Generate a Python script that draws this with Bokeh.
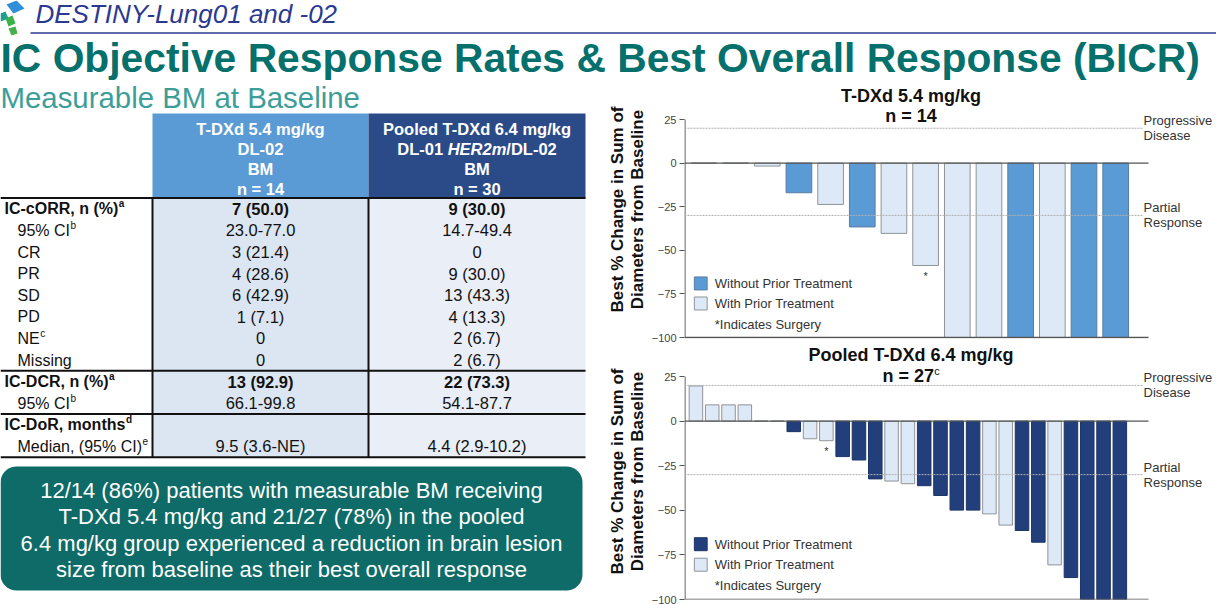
import math
from bokeh.plotting import figure
from bokeh.layouts import column, row
from bokeh.models import Range1d, Label, ColumnDataSource, FixedTicker
from bokeh.core.properties import value
from bokeh.embed import file_html
from bokeh.resources import INLINE

FONT = "Liberation Sans"

# ---------------- data ----------------
kicker = "DESTINY-Lung01 and -02"
main_title = "IC Objective Response Rates & Best Overall Response (BICR)"
subtitle = "Measurable BM at Baseline"

hdr_54 = ["T-DXd 5.4 mg/kg", "DL-02", "BM", "n = 14"]
hdr_64 = ["Pooled T-DXd 6.4 mg/kg", ["DL-01 ", "HER2m", "/DL-02"], "BM", "n = 30"]

row_labels = ["IC-cORR, n (%)", "95% CI", "CR", "PR", "SD", "PD", "NE", "Missing",
              "IC-DCR, n (%)", "95% CI", "IC-DoR, months", "Median, (95% CI)"]
row_sups = ["a", "b", "", "", "", "", "c", "", "a", "b", "d", "e"]
row_bold = [True, False, False, False, False, False, False, False, True, False, True, False]
col_54 = ["7 (50.0)", "23.0-77.0", "3 (21.4)", "4 (28.6)", "6 (42.9)", "1 (7.1)", "0", "0",
          "13 (92.9)", "66.1-99.8", "", "9.5 (3.6-NE)"]
col_64 = ["9 (30.0)", "14.7-49.4", "0", "9 (30.0)", "13 (43.3)", "4 (13.3)", "2 (6.7)", "2 (6.7)",
          "22 (73.3)", "54.1-87.7", "", "4.4 (2.9-10.2)"]
section_breaks = [0, 8, 10, 12]

callout = ["12/14 (86%) patients with measurable BM receiving",
           "T-DXd 5.4 mg/kg and 21/27 (78%) in the pooled",
           "6.4 mg/kg group experienced a reduction in brain lesion",
           "size from baseline as their best overall response"]

y_ticks = [-100, -75, -50, -25, 0, 25]
y_label = "Best % Change in Sum of\nDiameters from Baseline"
pd_threshold = 20
pr_threshold = -30
legend_labels = ["Without Prior Treatment", "With Prior Treatment", "*Indicates Surgery"]

top_title = "T-DXd 5.4 mg/kg"
top_n = "n = 14"
top_values = [0, 0, -1.7, -17.0, -23.7, -36.6, -40.3, -58.7, -100, -100, -100, -100, -100, -100]
top_prior = [True, True, True, False, True, False, True, True, True, True, False, True, False, False]
top_surgery = [7]

bot_title = "Pooled T-DXd 6.4 mg/kg"
bot_n = "n = 27"
bot_n_sup = "c"
bot_values = [19.7, 9.1, 9.1, 9.1, 0, 0, -5.9, -9.9, -11.0, -19.9, -21.8, -32.4, -33.6, -35.1,
              -36.2, -41.7, -49.9, -49.9, -52.0, -58.3, -61.3, -67.9, -80.6, -87.7, -100, -100, -100]
bot_prior = [True, True, True, True, True, True, False, True, True, False, False, False, True, True,
             False, False, False, False, True, True, False, False, True, False, False, False, False]
bot_surgery = [8]

# ---------------- helpers ----------------
REG = {' ': 278, '%': 889, '(': 333, ')': 333, ',': 278, '-': 333, '.': 278, '/': 278,
       'C': 722, 'D': 722, 'E': 667, 'I': 278, 'M': 833, 'N': 722, 'P': 667, 'R': 722, 'S': 667,
       'a': 556, 'd': 556, 'e': 556, 'i': 222, 'n': 556, 'g': 556, 's': 500}
BOLD = {' ': 278, '%': 889, '(': 333, ')': 333, ',': 278, '-': 333, '.': 278, '/': 278, '=': 584,
        'B': 722, 'C': 722, 'D': 722, 'E': 667, 'H': 722, 'I': 278, 'L': 611, 'M': 833, 'O': 778,
        'R': 722, 'T': 611, 'X': 667, 'a': 556, 'c': 556, 'd': 611, 'e': 556, 'g': 611, 'h': 611,
        'k': 556, 'm': 889, 'n': 611, 'o': 611, 's': 556, 't': 333}


def tw(s, size, bold=False):
    t = BOLD if bold else REG
    return sum(t.get(c, 556) for c in s) * size / 1000.0


TOTAL_W, TOTAL_H = 1216, 604
HDR_H = 80
LEFT_W = 604
RIGHT_W = TOTAL_W - LEFT_W
LEFT_H = TOTAL_H - HDR_H
SPLIT_Y = 343            # where the two waterfall charts meet


def base_fig(w, h, xr, yr):
    p = figure(width=w, height=h, x_range=xr, y_range=yr, toolbar_location=None,
               output_backend="svg", x_axis_location=None, y_axis_location=None,
               min_border=0, outline_line_color=None, title_location=None,
               background_fill_color="white", border_fill_color="white")
    p.grid.visible = False
    return p


def txt(p, x, y, s, size, color="#111111", style="normal", align="left", **kw):
    p.text(x=[x], y=[y], text=[s], text_font=value(FONT), text_font_size=value(f"{size}px"),
           text_color=color, text_font_style=style, text_align=align, text_baseline="middle", **kw)


# ---------------- header ----------------
hdr = base_fig(TOTAL_W, HDR_H, Range1d(0, TOTAL_W), Range1d(HDR_H, 0))
logo_xs = [[6, 16, 24, 13], [0, 5, 8, 0], [5, 12, 15, 8], [8, 15, 17, 11]]
logo_ys = [[4, 0, 8, 13], [13, 11, 18, 21], [18, 15, 23, 26], [28, 26, 33, 35]]
hdr.patches(xs=logo_xs, ys=logo_ys, fill_color=["#2f8fd8", "#1f9f93", "#3cb34a", "#46b04a"],
            line_color=None)
txt(hdr, 35, 13.5, kicker, 26, color="#2b3990", style="italic")
hdr.segment(x0=[30], y0=[32.5], x1=[TOTAL_W], y1=[32.5], line_color="#2b3990", line_width=1.5)
txt(hdr, 0, 57, main_title, 40.8, color="#05706c", style="bold")

# ---------------- left: table + callout ----------------
left = base_fig(LEFT_W, LEFT_H, Range1d(0, LEFT_W), Range1d(LEFT_H, 0))


def LY(r):
    return r - HDR_H


txt(left, 0, LY(96.5), subtitle, 29.4, color="#3d9e99")

C0, C1, C2, C3 = 0, 152, 368, 585
h_top, h_bot = LY(113), LY(197.5)
left.quad(left=[C1, C2], right=[C2, C3], top=[h_top] * 2, bottom=[h_bot] * 2,
          fill_color=["#5b9bd5", "#2b4a88"], line_color=None)
rh = 21.6
n_rows = len(row_labels)
rows_top = h_bot
rows_bot = rows_top + n_rows * rh
left.quad(left=[C1, C2], right=[C2, C3], top=[rows_top] * 2, bottom=[rows_bot] * 2,
          fill_color=["#dce6f2", "#e9eef7"], line_color=None)

mid2 = (C1 + C2) / 2.0
mid3 = (C2 + C3) / 2.0
HFS = 16.5
for i in range(4):
    yy = LY(128 + 20 * i)
    txt(left, mid2, yy, hdr_54[i], HFS, color="white", style="bold", align="center")
    item = hdr_64[i]
    if isinstance(item, list):
        total = sum(tw(part, HFS, True) for part in item)
        xx = mid3 - total / 2.0
        for k, part in enumerate(item):
            txt(left, xx, yy, part, HFS, color="white",
                style="bold italic" if k == 1 else "bold", align="left")
            xx += tw(part, HFS, True)
    else:
        txt(left, mid3, yy, item, HFS, color="white", style="bold", align="center")

FS = 16.5        # values
LFS = 16         # row labels
for i in range(n_rows):
    yy = rows_top + (i + 0.5) * rh
    b = row_bold[i]
    x0 = 4 if b else 17
    st = "bold" if b else "normal"
    txt(left, x0, yy, row_labels[i], LFS, style=st)
    if row_sups[i]:
        txt(left, x0 + tw(row_labels[i], LFS, b) + 0.5, yy - 5, row_sups[i], 10, style=st)
    txt(left, mid2, yy, col_54[i], FS, style=st, align="center")
    txt(left, mid3, yy, col_64[i], FS, style=st, align="center")

hy = [rows_top + k * rh for k in section_breaks]
left.segment(x0=[C0] * len(hy), y0=hy, x1=[C3] * len(hy), y1=hy, line_color="#111111", line_width=2)
left.segment(x0=[C1, C2], y0=[rows_top] * 2, x1=[C1, C2], y1=[rows_bot] * 2,
             line_color="#111111", line_width=2)

# rounded callout box
bx0, bx1, by0, by1, rr = 0, 582, LY(466), LY(590), 16
pxs, pys = [], []
for cx, cy, a0 in [(bx1 - rr, by0 + rr, -90), (bx1 - rr, by1 - rr, 0), (bx0 + rr, by1 - rr, 90),
                   (bx0 + rr, by0 + rr, 180)]:
    for k in range(11):
        a = math.radians(a0 + 9 * k)
        pxs.append(cx + rr * math.cos(a))
        pys.append(cy + rr * math.sin(a))
left.patch(x=pxs, y=pys, fill_color="#0e6b68", line_color=None)
for i, line in enumerate(callout):
    txt(left, 291, LY(490 + 26.3 * i), line, 22, color="white", align="center")


# ---------------- right: waterfall charts ----------------
LIGHT, LIGHT_LINE = "#dde9f7", "#8e9499"
FL = 72                  # frame left inside the chart figure
FW = RIGHT_W - FL        # frame runs to the figure's right edge
AX_END = 471             # px where the axis lines stop
REF_END = 465            # px where the dotted reference lines stop


def make_chart(title, n_text, n_sup, values, prior, surgery, dark, dark_line,
               fig_h, y25_px, plot_h, title_y, n_y, first_off, pitch, frac):
    frame_h = fig_h - 5
    ppu = plot_h / 125.0
    y_top = 25 + y25_px / ppu
    y_bot = -100 - (frame_h - y25_px - plot_h) / ppu
    xs = Range1d(-first_off / pitch, (FW - first_off) / pitch)
    p = figure(width=RIGHT_W, height=fig_h, x_range=xs, y_range=Range1d(y_bot, y_top),
               toolbar_location=None, output_backend="svg", x_axis_location=None,
               title_location=None, outline_line_color=None,
               min_border_left=FL, min_border_right=0, min_border_top=0, min_border_bottom=5,
               background_fill_color="white", border_fill_color="white")
    p.grid.visible = False
    p.extra_x_ranges = {"px": Range1d(0, FW)}
    p.extra_y_ranges = {"px": Range1d(frame_h, 0)}

    ax = p.yaxis[0]
    ax.ticker = FixedTicker(ticks=y_ticks)
    ax.axis_line_color = None
    ax.major_tick_line_color = "#555555"
    ax.major_tick_out = 5
    ax.major_tick_in = 0
    ax.minor_tick_line_color = None
    ax.major_label_text_font = FONT
    ax.major_label_text_font_size = "11px"
    ax.major_label_text_color = "#444444"
    ax.major_label_standoff = 3
    ax.axis_label = y_label
    ax.axis_label_text_font = FONT
    ax.axis_label_text_font_size = "17px"
    ax.axis_label_text_font_style = "bold"
    ax.axis_label_text_color = "#111111"
    ax.axis_label_text_line_height = 1.05
    ax.axis_label_standoff = 2

    def vy(v):
        return (y_top - v) * ppu

    # axis line (left)
    p.segment(x0=[0.5], y0=[-100], x1=[0.5], y1=[25], x_range_name="px",
              line_color="#555555", line_width=1.2)

    src = ColumnDataSource(dict(
        x=list(range(len(values))), top=values,
        fill=[LIGHT if w else dark for w in prior],
        line=[LIGHT_LINE if w else dark_line for w in prior]))
    p.vbar(x="x", top="top", bottom=0, width=frac, source=src, fill_color="fill",
           line_color="line", line_width=1)

    p.segment(x0=[0, 0], y0=[pd_threshold, pr_threshold], x1=[REF_END] * 2,
              y1=[pd_threshold, pr_threshold], x_range_name="px",
              line_color="#b0b0b0", line_width=1, line_dash="2 1")
    p.segment(x0=[0, 0], y0=[0, -100], x1=[AX_END] * 2, y1=[0, -100], x_range_name="px",
              line_color="#555555", line_width=1.3)

    p.text(x=surgery, y=[values[i] - 2.5 for i in surgery], text=["*"] * len(surgery),
           text_font=value(FONT), text_font_size=value("11px"), text_color="#333333",
           text_align="center", text_baseline="top")

    def lab(x, y, s, size, style="normal", color="#222222", align="left"):
        p.add_layout(Label(x=x, y=y, x_range_name="px", y_range_name="px", text=s,
                           text_font=FONT, text_font_size=f"{size}px", text_font_style=style,
                           text_color=color, text_align=align, text_baseline="middle"))

    # titles
    cxt = 230
    lab(cxt, title_y, title, 18, style="bold", color="#111111", align="center")
    if n_sup:
        wn = tw(n_text, 18, True)
        x0 = cxt - (wn + 6.5) / 2.0
        lab(x0, n_y, n_text, 18, style="bold", color="#111111")
        lab(x0 + wn + 1, n_y - 5, n_sup, 11, color="#111111")
    else:
        lab(cxt, n_y, n_text, 18, style="bold", color="#111111", align="center")

    # reference labels
    lab(466, vy(pd_threshold) - 7.5, "Progressive", 13, color="#333333")
    lab(466, vy(pd_threshold) + 7.5, "Disease", 13, color="#333333")
    lab(466, vy(pr_threshold) - 7.5, "Partial", 13, color="#333333")
    lab(466, vy(pr_threshold) + 7.5, "Response", 13, color="#333333")

    # legend
    ly = [vy(-69.0), vy(-80.5), vy(-92.3)]
    p.rect(x=[16.5, 16.5], y=ly[:2], width=13, height=13, x_range_name="px", y_range_name="px",
           fill_color=[dark, LIGHT], line_color=[dark_line, LIGHT_LINE], line_width=1)
    for k in range(3):
        lab(30.7, ly[k], legend_labels[k], 13, color="#333333")
    return p


top_h = SPLIT_Y - HDR_H
bot_h = TOTAL_H - SPLIT_Y
top_chart = make_chart(top_title, top_n, "", top_values, top_prior, top_surgery,
                       "#5b9bd5", "#5a7d9f", top_h, 119 - HDR_H, 218, 95 - HDR_H, 115.5 - HDR_H,
                       19.7, 32.15, 0.81)
bot_chart = make_chart(bot_title, bot_n, bot_n_sup, bot_values, bot_prior, bot_surgery,
                       "#223f7c", "#1c3566", bot_h, 376 - SPLIT_Y, 223, 354 - SPLIT_Y, 375 - SPLIT_Y,
                       11.6, 16.55, 0.83)

layout = column(hdr, row(left, column(top_chart, bot_chart)))
open("out.html", "w").write(file_html(layout, INLINE))
